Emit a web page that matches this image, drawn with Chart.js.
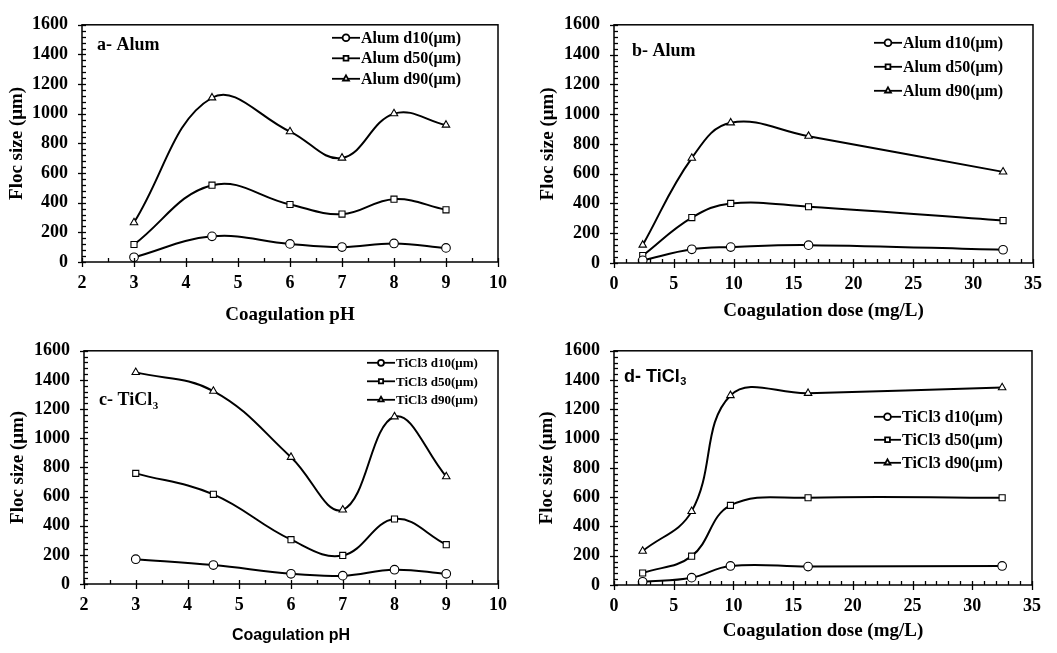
<!DOCTYPE html>
<html>
<head>
<meta charset="utf-8">
<script src="https://cdn.jsdelivr.net/npm/chart.js@4.4.1/dist/chart.umd.min.js"></script>
<style>
  html, body { margin: 0; padding: 0; background: #fff; }
  #wrap { position: relative; width: 1057px; height: 653px; overflow: hidden; }
  .panel { position: absolute; }
</style>
</head>
<body>
<div id="wrap">
  <div class="panel" style="left:0;top:0;width:528px;height:326px"><canvas id="ca"></canvas></div>
  <div class="panel" style="left:527px;top:0;width:530px;height:326px"><canvas id="cb"></canvas></div>
  <div class="panel" style="left:0;top:326px;width:528px;height:327px"><canvas id="cc"></canvas></div>
  <div class="panel" style="left:527px;top:326px;width:530px;height:327px"><canvas id="cd"></canvas></div>
</div>
<script>
// ---------- DATA ----------
const phX = [3, 4.5, 6, 7, 8, 9];
const doseX = [2.4, 6.5, 9.75, 16.25, 32.5];

const alumPhD10 = [32, 173, 122, 101, 125, 95];
const alumPhD50 = [118, 518, 388, 323, 424, 352];
const alumPhD90 = [266, 1108, 880, 702, 1001, 924];

const alumDoseD10 = [18, 92, 107, 120, 89];
const alumDoseD50 = [50, 305, 400, 378, 285];
const alumDoseD90 = [121, 705, 942, 852, 612];

const ticlPhD10 = [170, 130, 70, 57, 98, 70];
const ticlPhD50 = [759, 615, 304, 196, 446, 270];
const ticlPhD90 = [1452, 1324, 870, 509, 1148, 737];

const ticlDoseD10 = [22, 50, 130, 126, 130];
const ticlDoseD50 = [82, 197, 544, 596, 596];
const ticlDoseD90 = [232, 503, 1295, 1310, 1349];

const alumLabels = ['Alum d10(\u03bcm)', 'Alum d50(\u03bcm)', 'Alum d90(\u03bcm)'];
const ticlLabels = ['TiCl3 d10(\u03bcm)', 'TiCl3 d50(\u03bcm)', 'TiCl3 d90(\u03bcm)'];
const pointStyles = ['circle', 'rect', 'triangle'];

const yTitle = 'Floc size (\u03bcm)';
const xTitlePh = 'Coagulation pH';
const xTitleDose = 'Coagulation dose (mg/L)';

// ---------- STYLE ----------
const SERIF = '"Liberation Serif", "Times New Roman", serif';
const SANS = '"Liberation Sans", Arial, sans-serif';

const framePlugin = {
  id: 'frame',
  afterDraw(chart, args, o) {
    const { ctx, chartArea: a, scales: { x, y } } = chart;
    ctx.save();
    ctx.strokeStyle = '#000';
    ctx.lineWidth = 1.5;
    ctx.strokeRect(a.left, a.top, a.right - a.left, a.bottom - a.top);
    ctx.lineWidth = 1.3;
    const nY = Math.round((y.max - y.min) / o.yMinor);
    for (let i = 0; i <= nY; i++) {
      const v = y.min + i * o.yMinor;
      const py = Math.round(y.getPixelForValue(v)) + 0.5;
      const major = Math.abs((v / o.yMajor) - Math.round(v / o.yMajor)) < 1e-6;
      ctx.beginPath();
      ctx.moveTo(a.left - (major ? 4 : 0), py);
      ctx.lineTo(a.left + 4, py);
      ctx.stroke();
    }
    const nX = Math.round((x.max - x.min) / o.xMinor);
    for (let i = 0; i <= nX; i++) {
      const v = x.min + i * o.xMinor;
      const px = Math.round(x.getPixelForValue(v)) + 0.5;
      const major = Math.abs((v / o.xMajor) - Math.round(v / o.xMajor)) < 1e-6;
      ctx.beginPath();
      ctx.moveTo(px, a.bottom + (major ? 5 : 0));
      ctx.lineTo(px, a.bottom - 4);
      ctx.stroke();
    }
    const L = o.label;
    ctx.fillStyle = '#000';
    ctx.textBaseline = 'middle';
    ctx.textAlign = 'left';
    ctx.font = 'bold ' + L.size + 'px ' + L.family;
    ctx.fillText(L.text, a.left + L.dx, a.top + L.dy);
    if (L.sub) {
      const w = ctx.measureText(L.text).width;
      ctx.font = 'bold ' + Math.round(L.size * 0.62) + 'px ' + L.family;
      ctx.fillText(L.sub, a.left + L.dx + w + 0.5, a.top + L.dy + L.size * 0.3);
    }
    const G = o.legend;
    ctx.font = 'bold ' + G.size + 'px ' + SERIF;
    chart.data.datasets.forEach((ds, i) => {
      const yy = a.top + G.dy + i * G.gap;
      const x0 = a.left + G.dx;
      ctx.strokeStyle = '#000';
      ctx.lineWidth = 1.8;
      ctx.beginPath();
      ctx.moveTo(x0, yy);
      ctx.lineTo(x0 + G.len, yy);
      ctx.stroke();
      ctx.fillStyle = '#fff';
      ctx.strokeStyle = '#000';
      Chart.helpers.drawPoint(ctx, { pointStyle: ds.pointStyle, radius: G.r, borderWidth: 1.1, rotation: 0 }, x0 + G.len / 2, yy);
      ctx.fillStyle = '#000';
      ctx.fillText(ds.label, x0 + G.len + 1, yy + 1);
    });
    ctx.restore();
  }
};

function makeChart(id, cfg) {
  const datasets = cfg.series.map((vals, i) => ({
    label: cfg.labels[i],
    data: cfg.xs.map((xv, j) => ({ x: xv, y: vals[j] })),
    borderColor: '#000',
    borderWidth: 2,
    backgroundColor: '#fff',
    pointStyle: pointStyles[i],
    pointRadius: 4.3,
    pointBorderWidth: 1.1,
    pointBackgroundColor: '#fff',
    pointBorderColor: '#000',
    tension: 0.4,
    fill: false
  }));
  const el = document.getElementById(id);
  const W = el.parentNode.clientWidth, H = el.parentNode.clientHeight;
  return new Chart(el, {
    type: 'line',
    data: { datasets },
    plugins: [framePlugin],
    options: {
      responsive: true,
      maintainAspectRatio: false,
      animation: false,
      events: [],
      layout: { padding: { left: 0, top: cfg.area.top, right: W - cfg.area.right, bottom: 0 } },
      plugins: {
        legend: { display: false },
        tooltip: { enabled: false },
        frame: cfg.frame
      },
      scales: {
        x: {
          type: 'linear',
          min: cfg.xMin, max: cfg.xMax,
          afterFit(s) { s.height = H - cfg.area.bottom; },
          grid: { display: false, drawTicks: false },
          border: { display: false },
          ticks: {
            stepSize: cfg.xStep, autoSkip: false, maxRotation: 0, color: '#000',
            padding: 11,
            callback: v => String(v),
            font: { family: SERIF, size: 18, weight: 'bold' }
          },
          title: {
            display: true, text: cfg.xTitle, color: '#000',
            font: { family: cfg.xTitleFont.family, size: cfg.xTitleFont.size, weight: 'bold' },
            padding: { top: 0, bottom: cfg.xTitlePad }
          }
        },
        y: {
          min: 0, max: 1600,
          afterFit(s) { s.width = cfg.area.left; },
          grid: { display: false, drawTicks: false },
          border: { display: false },
          ticks: {
            stepSize: 200, color: '#000', padding: 14,
            callback: v => String(v),
            font: { family: SERIF, size: 18, weight: 'bold' }
          },
          title: {
            display: true, text: yTitle, color: '#000',
            font: { family: SERIF, size: 19, weight: 'bold' },
            padding: { top: cfg.yTitlePad, bottom: 0 }
          }
        }
      }
    }
  });
}

makeChart('ca', {
  xs: phX, series: [alumPhD10, alumPhD50, alumPhD90], labels: alumLabels,
  xMin: 2, xMax: 10, xStep: 1,
  area: { left: 82, right: 498, top: 16, bottom: 262 },
  xTitle: xTitlePh, xTitleFont: { family: SERIF, size: 19 }, xTitlePad: 0, yTitlePad: 6,
  frame: {
    yMinor: 40, yMajor: 200, xMinor: 0.5, xMajor: 1,
    label: { text: 'a- Alum', size: 18, family: SERIF, dx: 15, dy: 21 },
    legend: { size: 16, dx: 250, dy: 13, gap: 20.5, len: 28, r: 3.4 }
  }
});

makeChart('cb', {
  xs: doseX, series: [alumDoseD10, alumDoseD50, alumDoseD90], labels: alumLabels,
  xMin: 0, xMax: 35, xStep: 5,
  area: { left: 87, right: 506, top: 16, bottom: 263 },
  xTitle: xTitleDose, xTitleFont: { family: SERIF, size: 19 }, xTitlePad: 4, yTitlePad: 10,
  frame: {
    yMinor: 40, yMajor: 200, xMinor: 1, xMajor: 5,
    label: { text: 'b- Alum', size: 18, family: SERIF, dx: 18, dy: 27 },
    legend: { size: 16, dx: 260, dy: 18, gap: 24, len: 28, r: 3.4 }
  }
});

makeChart('cc', {
  xs: phX, series: [ticlPhD10, ticlPhD50, ticlPhD90], labels: ticlLabels,
  xMin: 2, xMax: 10, xStep: 1,
  area: { left: 84, right: 498, top: 12, bottom: 258 },
  xTitle: xTitlePh, xTitleFont: { family: SANS, size: 16 }, xTitlePad: 8, yTitlePad: 7,
  frame: {
    yMinor: 40, yMajor: 200, xMinor: 0.5, xMajor: 1,
    label: { text: 'c- TiCl', sub: '3', size: 18, family: SERIF, dx: 15, dy: 50 },
    legend: { size: 13, dx: 283, dy: 12, gap: 18.5, len: 28, r: 3 }
  }
});

makeChart('cd', {
  xs: doseX, series: [ticlDoseD10, ticlDoseD50, ticlDoseD90], labels: ticlLabels,
  xMin: 0, xMax: 35, xStep: 5,
  area: { left: 87, right: 505, top: 13, bottom: 259 },
  xTitle: xTitleDose, xTitleFont: { family: SERIF, size: 19 }, xTitlePad: 11, yTitlePad: 9,
  frame: {
    yMinor: 40, yMajor: 200, xMinor: 1, xMajor: 5,
    label: { text: 'd- TiCl', sub: '3', size: 18, family: SANS, dx: 10, dy: 26 },
    legend: { size: 16, dx: 260, dy: 66, gap: 23, len: 27, r: 3.4 }
  }
});
</script>
</body>
</html>
